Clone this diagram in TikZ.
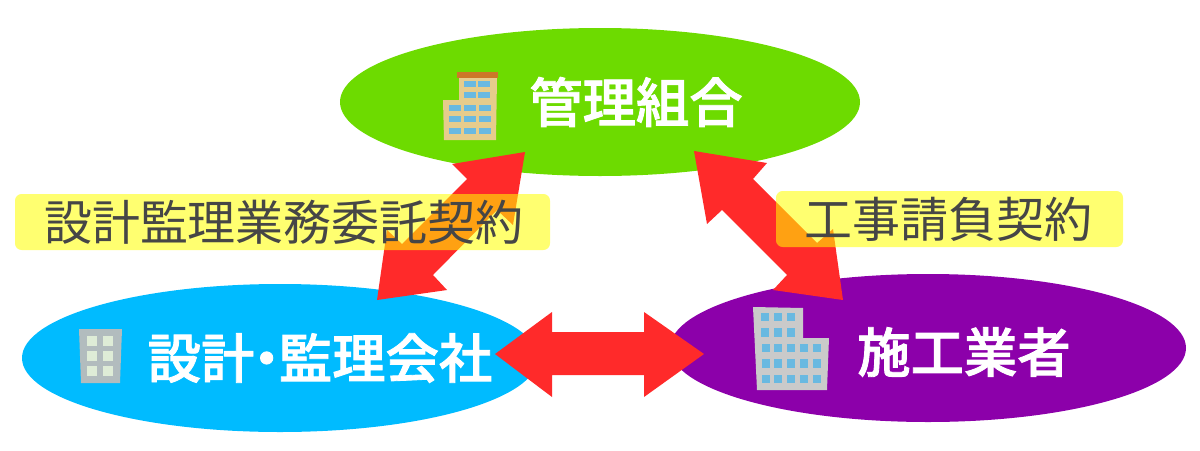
\documentclass[tikz,border=0pt]{standalone}
\usepackage{fontspec}
\setmainfont{Noto Sans CJK JP}
\newfontfamily\orgfont[FakeBold=1.6]{Noto Sans CJK JP Medium}
\definecolor{cgrn}{RGB}{109,219,0}
\definecolor{cblu}{RGB}{0,187,255}
\definecolor{cpur}{RGB}{140,0,170}
\definecolor{carr}{RGB}{255,42,42}
\definecolor{cylw}{RGB}{255,255,0}
\definecolor{ctxt}{RGB}{70,70,70}
\definecolor{ctan}{RGB}{230,204,140}
\definecolor{croof}{RGB}{204,120,40}
\definecolor{cwin}{RGB}{105,185,225}
\definecolor{cgry}{RGB}{178,188,190}
\definecolor{cgrb}{RGB}{202,202,202}
\definecolor{cpal}{RGB}{222,236,215}
\tikzset{
  x=0.75pt,y=-0.75pt,
  blockarrow/.style={fill=carr,draw=none},
  labelbox/.style={fill=cylw,fill opacity=0.56,draw=none,rounded corners=5pt},
  labeltext/.style={inner sep=0pt,text=ctxt,font=\fontsize{36}{36}\selectfont},
  orgtext/.style={inner sep=0pt,text=white,font=\fontsize{40}{40}\orgfont},
}
\newcommand{\winrect}[5]{\fill[#5] (#1-#3/2,#2-#4/2) rectangle (#1+#3/2,#2+#4/2);}
\begin{document}
\begin{tikzpicture}
\useasboundingbox (0,0) rectangle (1200,450);
% ellipses
\fill[cgrn] (600,102) ellipse [x radius=260,y radius=74];
\fill[cblu] (280,358) ellipse [x radius=258,y radius=74];
\fill[cpur] (928,348) ellipse [x radius=258,y radius=74];
% block arrows
\fill[blockarrow] (525,152) -- (452,164) -- (467,179) -- (402,244) -- (387,230) -- (377,300) -- (447,290) -- (433,275) -- (497,210) -- (513,225) -- cycle;
\fill[blockarrow] (694,151) -- (767,163) -- (753,179) -- (817,243) -- (833,229) -- (843,300) -- (773,290) -- (787,275) -- (722,210) -- (707,224) -- cycle;
\fill[blockarrow] (495,354) -- (552,312) -- (552,332) -- (644,332) -- (644,312) -- (704,354) -- (644,397) -- (644,375) -- (552,375) -- (552,397) -- cycle;
% label boxes
\fill[labelbox] (15,194) rectangle (550,250);
\fill[labelbox] (776,191) rectangle (1123,247);
\node[labeltext] (lblA) at (284,222) {設計監理業務委託契約};
\node[labeltext] (lblB) at (948,219) {工事請負契約};
% building 1
\fill[ctan] (459,78) -- (497,78) -- (496,140) -- (444,140) -- (443,100) -- (459,100) -- cycle;
\fill[croof] (457,72) rectangle (498,78);
\foreach \x/\y in {470/83.5,484/83.5,470/95,484/95,455/108,470/108,485/108,455/118.5,470/118.5,485/118.5,455/130.5,470/130.5,485/130.5}{\winrect{\x}{\y}{11.5}{6}{cwin}}
% building 2
\fill[cgry] (79,329) -- (122,329) -- (120,383) -- (81,383) -- cycle;
\foreach \x/\y in {92.3/341.3,108.3/341.3,92.3/356,108.3/356,92.3/371,108.3/371}{\winrect{\x}{\y}{10}{10}{cpal}}
% building 3
\fill[cgrb] (753,307) -- (803,308) -- (803,338) -- (829,338) -- (827,390) -- (757,390) -- cycle;
\foreach \x/\y in {765/317,778/317,791/317,765/332.5,778/332.5,791/332.5,766/348,778/348,791/348,804/348,817/348,766/363.5,778/363.5,791/363.5,804/363.5,817/363.5,766/379,778/379,791/379,804/379,817/379}{\winrect{\x}{\y}{8.7}{8.7}{cwin}}
% organisation names
\node[orgtext] (kanri) at (636,102) {管理組合};
\node[orgtext] (sekkei) at (320,358) {設計\kern-.27em・\kern-.27em監理会社};
\node[orgtext] (seko) at (964,352) {施工業者};
\end{tikzpicture}
\end{document}
